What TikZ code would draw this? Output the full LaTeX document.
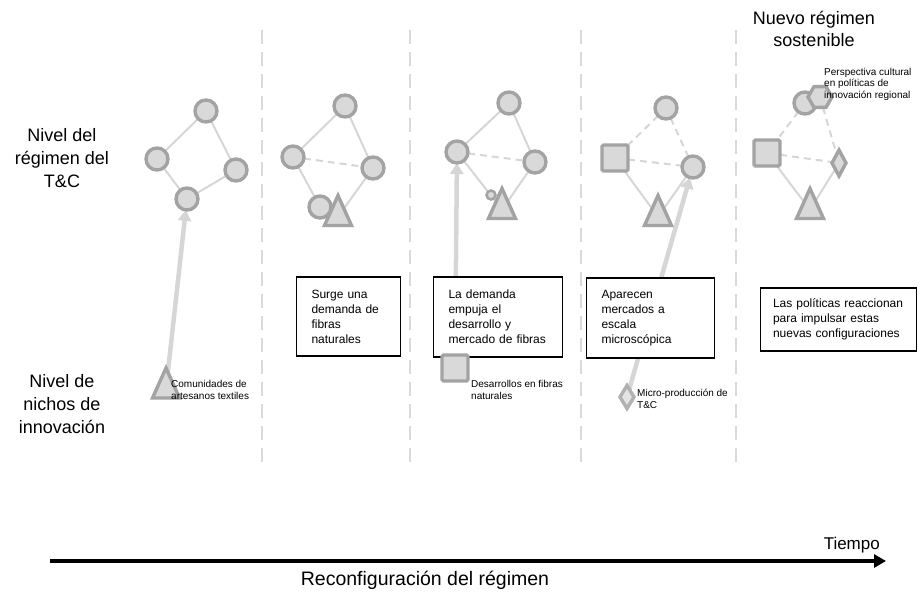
\documentclass[tikz,border=0pt]{standalone}
\usepackage{fontspec}
\setmainfont{Liberation Sans}
\usetikzlibrary{shapes.geometric,arrows.meta,backgrounds}

\definecolor{shapeedge}{HTML}{A3A3A3}
\definecolor{shapefill}{HTML}{D9D9D9}
\definecolor{linkcol}{HTML}{D6D6D6}
\definecolor{sepcol}{HTML}{DADADA}

\tikzset{
  shp/.style={draw=shapeedge, fill=shapefill, line width=3.4, inner sep=0, outer sep=0},
  circ/.style={shp, circle, minimum size=22},
  smallcirc/.style={shp, circle, minimum size=9, line width=2.5},
  sqr/.style={shp, rectangle, minimum size=26, rounded corners=1.5},
  tri/.style={shp, isosceles triangle, shape border rotate=90,
    isosceles triangle stretches, minimum width=27, minimum height=30, anchor=south},
  dia/.style={shp, diamond, minimum width=14, minimum height=26},
  hex/.style={shp, regular polygon, regular polygon sides=6, minimum size=24},
  link/.style={draw=linkcol, line width=2},
  dlink/.style={link, dash pattern=on 7 off 5},
  rise/.style={draw=linkcol, line width=4.5, -{Triangle[length=11,width=13]}},
  sepline/.style={draw=sepcol, line width=2.5, dash pattern=on 14 off 8},
  level/.style={align=center, font=\fontsize{18}{23}\selectfont},
  note/.style={align=left, inner sep=0, font=\fontsize{10}{12.5}\selectfont},
  msg/.style={draw=black, fill=white, line width=1.4, align=left, inner xsep=15, inner ysep=0,
    font=\fontsize{12}{15}\selectfont},
}

\begin{document}
\hyphenpenalty=10000
\exhyphenpenalty=10000
\begin{tikzpicture}[x=1pt, y=-1pt]
\useasboundingbox (0,0) rectangle (920,592);

% level labels
\node[level] (lvreg) at (62,158) {Nivel del\\régimen del\\T\&C};
\node[level] (lvnich) at (62,404) {Nivel de\\nichos de\\innovación};
\node[level, font=\fontsize{18}{22}\selectfont] (newreg) at (814,29) {Nuevo régimen\\sostenible};

% column separators
\coordinate (s1t) at (262,30); \coordinate (s1b) at (262,465);
\coordinate (s2t) at (410,30); \coordinate (s2b) at (410,465);
\coordinate (s3t) at (581,30); \coordinate (s3b) at (581,465);
\coordinate (s4t) at (736,30); \coordinate (s4b) at (736,465);

% stage 1: initial regime
\node[circ] (a1) at (206,111) {};
\node[circ] (a2) at (157,159) {};
\node[circ] (a3) at (236,170) {};
\node[circ] (a4) at (187,199) {};
\node[tri] (n1) at (166,398) {};
\node[note, anchor=west] (n1l) at (171,390) {Comunidades de\\artesanos textiles};

% stage 2
\node[circ] (b1) at (345,106) {};
\node[circ] (b2) at (293,157) {};
\node[circ] (b3) at (373,168) {};
\node[circ] (b4) at (320,207) {};
\node[tri] (b5) at (338,225.5) {};
\node[msg, text width=74, minimum height=79] (m1) at (348.5,316.5)
  {Surge una\\demanda de\\fibras\\naturales};

% stage 3
\node[circ] (c1) at (509,103) {};
\node[circ] (c2) at (457,152) {};
\node[circ] (c3) at (535,162) {};
\node[smallcirc] (c4) at (491,195) {};
\node[tri] (c5) at (502,218.5) {};
\node[msg, text width=99, minimum height=80] (m2) at (498,317)
  {La demanda\\empuja el\\desarrollo y\\mercado de fibras};
\node[sqr] (n3) at (455,368) {};
\node[note, anchor=west] (n3l) at (471,390) {Desarrollos en fibras\\naturales};

% stage 4
\node[circ] (d1) at (666,108) {};
\node[sqr] (d2) at (615,158) {};
\node[circ] (d3) at (693,167) {};
\node[tri] (d4) at (658,225.5) {};
\node[msg, text width=98, minimum height=80] (m3) at (650.5,318)
  {Aparecen\\mercados a\\escala\\microscópica};
\node[dia, minimum width=14, minimum height=23, draw=shapeedge!85, fill=shapefill!70] (n4) at (627,397) {};
\node[note, anchor=west] (n4l) at (637,399) {Micro-producción de\\T\&C};

% stage 5: new sustainable regime
\node[circ] (e1) at (805,103) {};
\node[hex] (e2) at (820,97) {};
\node[sqr] (e3) at (767,153) {};
\node[dia] (e4) at (839,163) {};
\node[tri] (e5) at (810,218.5) {};
\node[note, anchor=west, font=\fontsize{10}{11.5}\selectfont] (e2l) at (824,84)
  {Perspectiva cultural\\en políticas de\\innovación regional};
\node[msg, inner xsep=12.5, text width=131, minimum height=63] (m4) at (838.5,319.5)
  {Las políticas reaccionan\\para impulsar estas\\nuevas configuraciones};

% time axis
\coordinate (t0) at (50,561);
\coordinate (t1) at (886,561);
\draw[line width=4.5, -{Triangle[length=12,width=13]}] (t0) -- (t1);
\node[font=\fontsize{17}{20}\selectfont, anchor=south east, inner sep=0] (tiempo) at (880,553) {Tiempo};
\node[font=\fontsize{19.5}{22}\selectfont, inner sep=0] (reconf) at (425,580) {Reconfiguración del régimen};

\begin{pgfonlayer}{background}
  \draw[sepline] (s1t) -- (s1b);
  \draw[sepline] (s2t) -- (s2b);
  \draw[sepline] (s3t) -- (s3b);
  \draw[sepline] (s4t) -- (s4b);
  % stage 1
  \draw[link] (a1) -- (a2);
  \draw[link] (a1) -- (a3);
  \draw[link] (a2) -- (a4);
  \draw[link] (a3) -- (a4);
  \draw[rise] (n1.center) -- (a4);
  % stage 2
  \draw[link] (b1) -- (b2);
  \draw[link] (b1) -- (b3);
  \draw[dlink] (b2) -- (b3);
  \draw[link] (b2) -- (b4);
  \draw[link] (b3) -- (b5.center);
  % stage 3
  \draw[link] (c1) -- (c2);
  \draw[link] (c1) -- (c3);
  \draw[dlink] (c2) -- (c3);
  \draw[link] (c2) -- (c5.center);
  \draw[link] (c3) -- (c5.center);
  \draw[rise] (n3.center) -- (c2);
  % stage 4
  \draw[dlink] (d1) -- (d2);
  \draw[dlink] (d1) -- (d3);
  \draw[dlink] (d2) -- (d3);
  \draw[link] (d2) -- (d4.center);
  \draw[link] (d3) -- (d4.center);
  \draw[rise] (n4.center) -- (d3);
  % stage 5
  \draw[dlink] (e1) -- (e3);
  \draw[dlink] (e2) -- (e4);
  \draw[dlink] (e3) -- (e4);
  \draw[link] (e3) -- (e5.center);
  \draw[link] (e4) -- (e5.center);
\end{pgfonlayer}
\end{tikzpicture}
\end{document}
